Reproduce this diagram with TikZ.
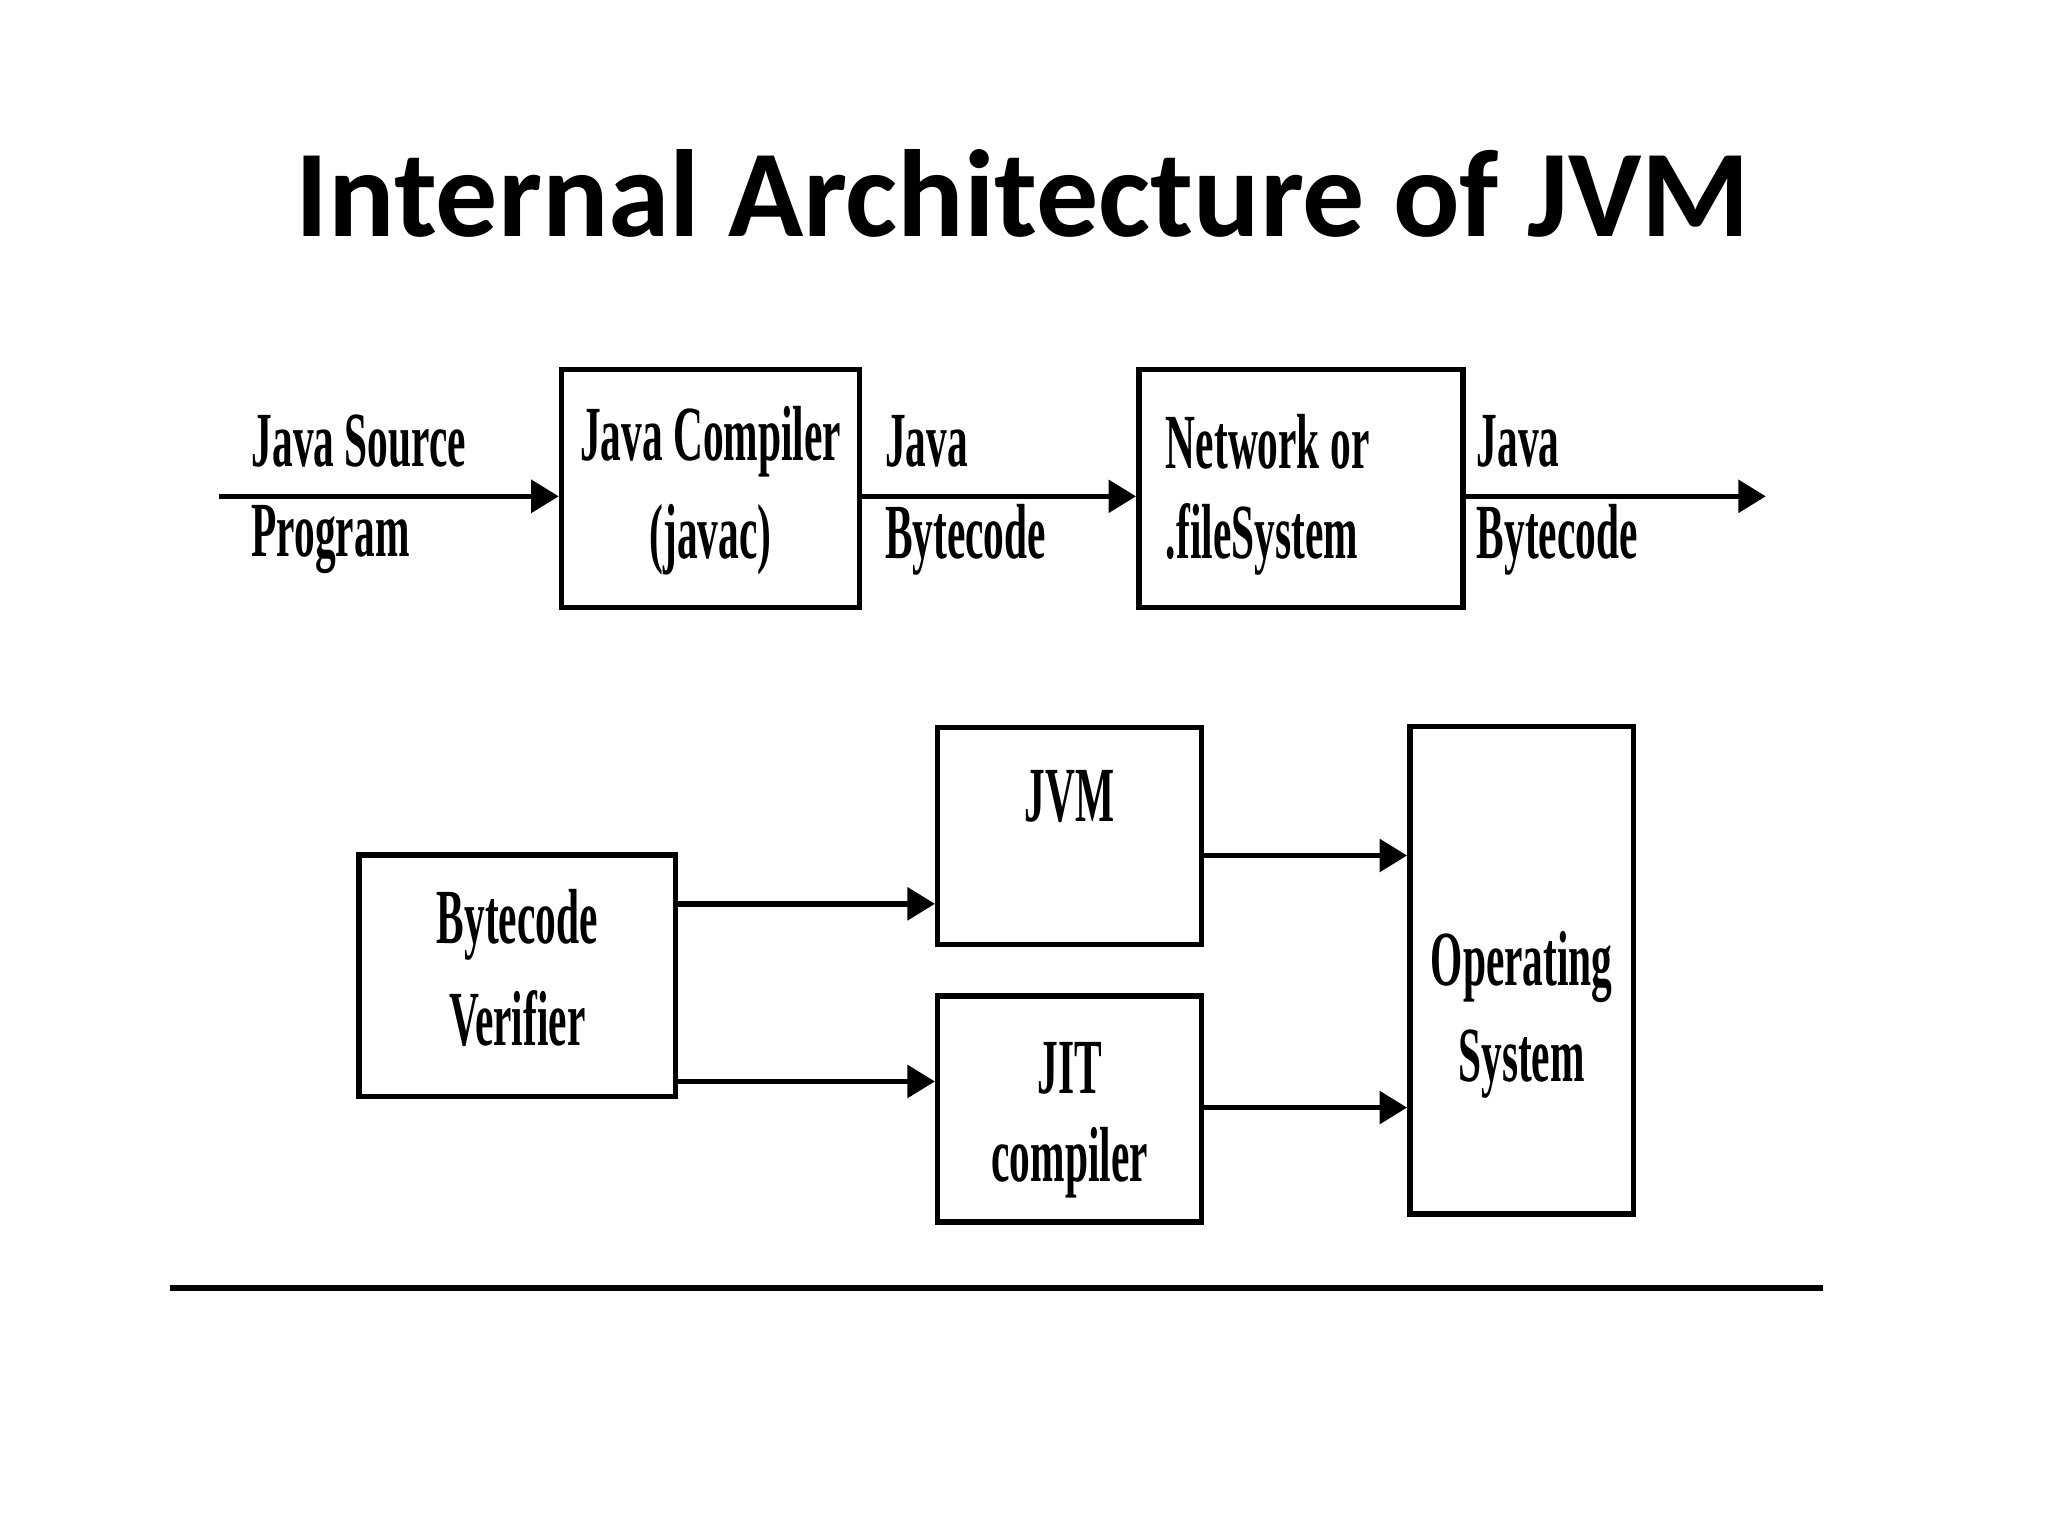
\documentclass[tikz,border=0pt]{standalone}
\usepackage{fontspec}
\setmainfont{Liberation Serif}
\newfontfamily\titlefont{Carlito}
\usetikzlibrary{arrows.meta}
\newcommand{\nar}[1]{\scalebox{0.53}[1]{\bfseries #1}}
\begin{document}
\begin{tikzpicture}[x=0.01cm,y=-0.01cm,
  box/.style={draw,line width=1.2pt,inner sep=0},
  lab/.style={font=\fontsize{17}{17}\selectfont,inner sep=0},
  arr/.style={line width=1.2pt,-{Triangle[length=6pt,width=7pt]}}]
\useasboundingbox[fill=white] (0,0) rectangle (1568,1176);
\node[font=\titlefont\bfseries\fontsize{27}{28}\selectfont] (title) at (783,148) {Internal Architecture of JVM};
% top row
\node[box,minimum width=228cm/100,minimum height=182cm/100] (comp) at (544,374) {};
\node[box,minimum width=248cm/100,minimum height=182cm/100] (net) at (996,374) {};
\coordinate (s) at (168,380);
\coordinate (e) at (1352,380);
\draw[arr] (s) -- (s -| comp.west);
\draw[arr] (comp.east |- s) -- (net.west |- s);
\draw[arr] (net.east |- s) -- (e);
\node[lab,anchor=west] (t1a) at (192,338) {\nar{Java Source}};
\node[lab,anchor=west] (t1b) at (192,413) {\nar{Program}};
\node[lab] (t2a) at (544,338) {\nar{Java Compiler}};
\node[lab] (t2b) at (544,413) {\nar{(javac)}};
\node[lab,anchor=west] (t3a) at (677,338) {\nar{Java}};
\node[lab,anchor=west] (t3b) at (677,413) {\nar{Bytecode}};
\node[lab,anchor=west] (t4a) at (892,338) {\nar{Network or}};
\node[lab,anchor=west] (t4b) at (892,413) {\nar{.fileSystem}};
\node[lab,anchor=west] (t5a) at (1130,338) {\nar{Java}};
\node[lab,anchor=west] (t5b) at (1130,413) {\nar{Bytecode}};
% bottom
\node[box,minimum width=242cm/100,minimum height=185cm/100] (ver) at (396,747) {};
\node[box,minimum width=202cm/100,minimum height=166cm/100] (jvm) at (819,640) {};
\node[box,minimum width=202cm/100,minimum height=173cm/100] (jit) at (819,849) {};
\node[box,minimum width=171cm/100,minimum height=373cm/100] (os) at (1165,743) {};
\node[lab] (b1) at (396,708) {\nar{Bytecode}};
\node[lab] (b2) at (396,780) {\nar{Verifier}};
\node[lab] (b3) at (819,610) {\nar{JVM}};
\node[lab] (b4) at (819,818) {\nar{JIT}};
\node[lab] (b5) at (819,890) {\nar{compiler}};
\node[lab] (b6) at (1165,740) {\nar{Operating}};
\node[lab] (b7) at (1165,815) {\nar{System}};
\coordinate (y1) at (0,692);
\coordinate (y2) at (0,828);
\coordinate (y3) at (0,655);
\coordinate (y4) at (0,848);
\draw[arr] (ver.east |- y1) -- (jvm.west |- y1);
\draw[arr] (ver.east |- y2) -- (jit.west |- y2);
\draw[arr] (jvm.east |- y3) -- (os.west |- y3);
\draw[arr] (jit.east |- y4) -- (os.west |- y4);
\coordinate (l1) at (130,986);
\coordinate (l2) at (1396,986);
\draw[line width=1.3pt] (l1) -- (l2);
\end{tikzpicture}
\end{document}
